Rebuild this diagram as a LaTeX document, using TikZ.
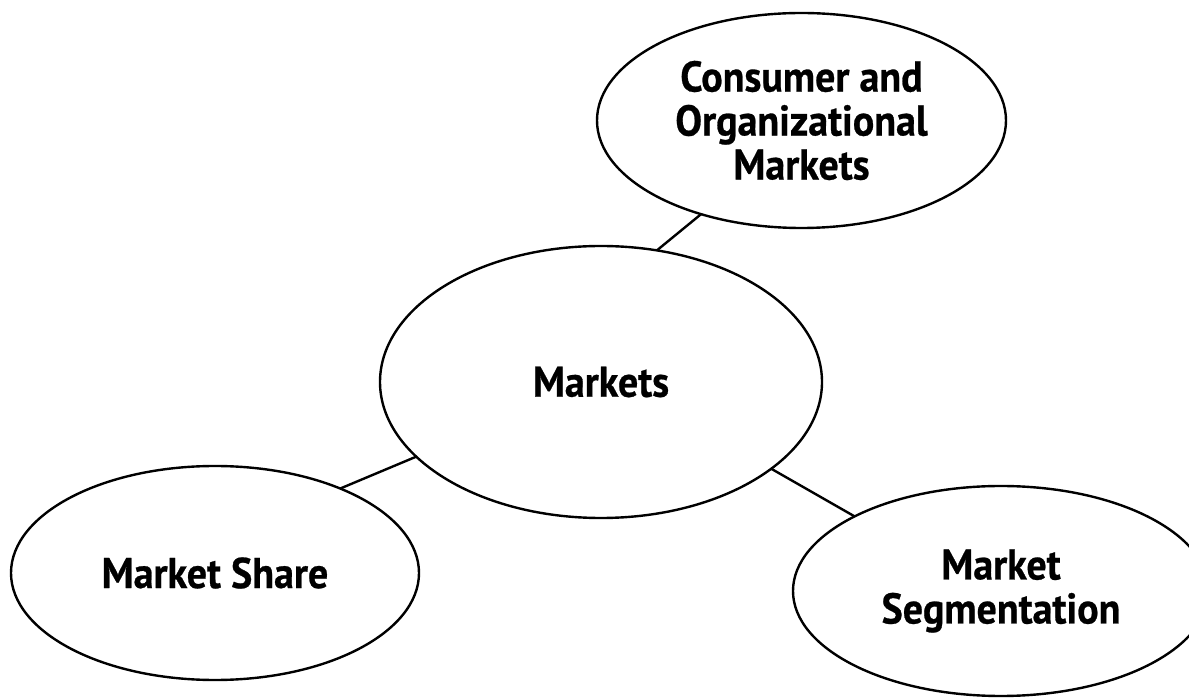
\documentclass[tikz,border=0pt]{standalone}
\usepackage{fontspec}
\setmainfont[FakeStretch=0.93,BoldFeatures={FakeBold=0.6}]{PT Sans}
\usetikzlibrary{shapes,positioning}

\begin{document}
\begin{tikzpicture}[x=1pt,y=1pt,
    topic/.style={ellipse,draw=black,line width=2.4pt,inner sep=0pt,outer sep=0pt,
      align=center,font=\fontsize{43}{44}\selectfont\bfseries},
    link/.style={draw=black,line width=2.4pt}]
  \path[use as bounding box,fill=white] (0,0) rectangle (1189,699);
  % the four topics
  \node[topic,minimum width=442pt,minimum height=272pt] (markets) at (601,317) {Markets};
  \node[topic,minimum width=409pt,minimum height=215pt] (consumer) at (801.5,578.5)
    {Consumer and\\Organizational\\Markets};
  \node[topic,minimum width=408pt,minimum height=214pt] (share) at (215,126) {Market Share};
  \node[topic,minimum width=416pt,minimum height=210pt] (segment) at (1001,108)
    {Market\\Segmentation};
  % links to the centre
  \draw[link] (markets.67.75) -- (consumer.223.5);
  \draw[link] (markets.202.7) -- (share.34.6);
  \draw[link] (markets.333.2) -- (segment.153.9);
\end{tikzpicture}
\end{document}
